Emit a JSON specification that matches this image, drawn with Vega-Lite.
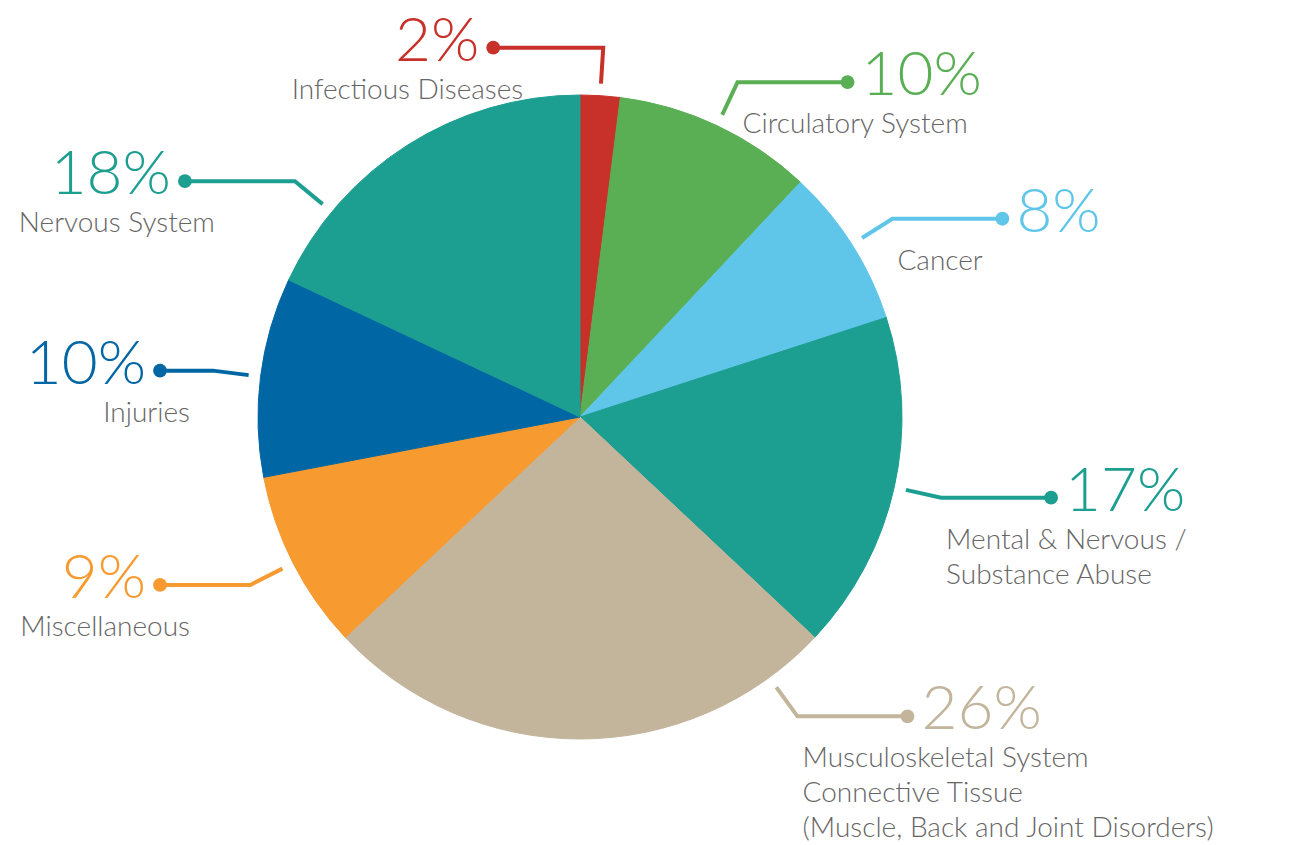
{
  "$schema": "https://vega.github.io/schema/vega-lite/v6.json",
  "width": 1307,
  "height": 845,
  "padding": 0,
  "autosize": {"type": "none"},
  "background": "white",
  "config": {"view": {"stroke": null}},
  "data": {
    "values": [
      {"category": "Infectious Diseases", "label": "Infectious Diseases", "value": 2, "order": 1},
      {"category": "Circulatory System", "label": "Circulatory System", "value": 10, "order": 2},
      {"category": "Cancer", "label": "Cancer", "value": 8, "order": 3},
      {"category": "Mental & Nervous / Substance Abuse", "label": "Mental & Nervous /\nSubstance Abuse", "value": 17, "order": 4},
      {"category": "Musculoskeletal System Connective Tissue", "label": "Musculoskeletal  System\nConnective Tissue\n(Muscle, Back and Joint Disorders)", "value": 26, "order": 5},
      {"category": "Miscellaneous", "label": "Miscellaneous", "value": 9, "order": 6},
      {"category": "Injuries", "label": "Injuries", "value": 10, "order": 7},
      {"category": "Nervous System", "label": "Nervous System", "value": 18, "order": 8}
    ]
  },
  "transform": [
    {"window": [{"op": "sum", "field": "value", "as": "cum"}], "sort": [{"field": "order", "order": "ascending"}], "frame": [null, 0]},
    {"joinaggregate": [{"op": "sum", "field": "value", "as": "total"}]},
    {"calculate": "2*PI*(datum.cum - datum.value/2)/datum.total", "as": "mid"},
    {"calculate": "datum.mid <= 1.05*PI ? min(datum.mid, 0.8*PI) : min(max(datum.mid, 1.2*PI), 1.72*PI)", "as": "a"},
    {"calculate": "sin(datum.a) > 0.1 ? 1 : -1", "as": "side"},
    {"calculate": "334*sin(datum.a)", "as": "x1"},
    {"calculate": "334*cos(datum.a)", "as": "y1"},
    {"calculate": "370*sin(datum.a)", "as": "x2"},
    {"calculate": "370*cos(datum.a)", "as": "y2"},
    {"calculate": "datum.side > 0 ? datum.x2 + 110 : max(datum.x2 - 110, -420)", "as": "x3"},
    {"calculate": "datum.y2", "as": "y3"},
    {"calculate": "datum.x3 + 14*datum.side", "as": "pctX"},
    {"calculate": "datum.side > 0 ? datum.x2 + 5 : datum.x3 + 30", "as": "nameX"},
    {"calculate": "datum.value + '%'", "as": "pct"}
  ],
  "layer": [
    {
      "mark": {"type": "arc", "outerRadius": 322, "strokeWidth": 1},
      "encoding": {
        "theta": {"field": "value", "type": "quantitative", "stack": true},
        "order": {"field": "order", "type": "quantitative"},
        "color": {"field": "category", "type": "nominal", "legend": null,
          "scale": {"domain": ["Infectious Diseases", "Circulatory System", "Cancer", "Mental & Nervous / Substance Abuse", "Musculoskeletal System Connective Tissue", "Miscellaneous", "Injuries", "Nervous System"],
                    "range": ["#C8302A", "#5AAF55", "#5FC6EA", "#1C9E91", "#C3B59C", "#F79A30", "#0067A4", "#1C9E91"]}},
        "stroke": {"field": "category", "type": "nominal", "legend": null,
          "scale": {"domain": ["Infectious Diseases", "Circulatory System", "Cancer", "Mental & Nervous / Substance Abuse", "Musculoskeletal System Connective Tissue", "Miscellaneous", "Injuries", "Nervous System"],
                    "range": ["#C8302A", "#5AAF55", "#5FC6EA", "#1C9E91", "#C3B59C", "#F79A30", "#0067A4", "#1C9E91"]}},
        "x": {"datum": 0, "type": "quantitative", "axis": null, "scale": {"domain": [-580, 727], "nice": false, "zero": false}},
        "y": {"datum": 0, "type": "quantitative", "axis": null, "scale": {"domain": [-428, 417], "nice": false, "zero": false}}
      }
    },
    {
      "transform": [
        {"calculate": "[datum.x1, datum.x2, datum.x3]", "as": "px"},
        {"calculate": "[datum.y1, datum.y2, datum.y3]", "as": "py"},
        {"calculate": "[0, 1, 2]", "as": "pi"},
        {"flatten": ["px", "py", "pi"]}
      ],
      "mark": {"type": "line", "strokeWidth": 4, "strokeJoin": "miter"},
      "encoding": {
        "x": {"field": "px", "type": "quantitative", "axis": null, "scale": {"domain": [-580, 727], "nice": false, "zero": false}},
        "y": {"field": "py", "type": "quantitative", "axis": null, "scale": {"domain": [-428, 417], "nice": false, "zero": false}},
        "color": {"field": "category", "type": "nominal", "legend": null},
        "detail": {"field": "category"},
        "order": {"field": "pi", "type": "quantitative"}
      }
    },
    {
      "mark": {"type": "point", "filled": true, "size": 190, "opacity": 1},
      "encoding": {
        "x": {"field": "x3", "type": "quantitative", "axis": null, "scale": {"domain": [-580, 727], "nice": false, "zero": false}},
        "y": {"field": "y3", "type": "quantitative", "axis": null, "scale": {"domain": [-428, 417], "nice": false, "zero": false}},
        "color": {"field": "category", "type": "nominal", "legend": null}
      }
    },
    {
      "transform": [{"filter": "datum.side > 0"}],
      "mark": {"type": "text", "align": "left", "baseline": "middle", "dy": -6, "font": "Lato", "fontWeight": 300, "fontSize": 62},
      "encoding": {
        "x": {"field": "pctX", "type": "quantitative", "axis": null, "scale": {"domain": [-580, 727], "nice": false, "zero": false}},
        "y": {"field": "y3", "type": "quantitative", "axis": null, "scale": {"domain": [-428, 417], "nice": false, "zero": false}},
        "text": {"field": "pct"},
        "color": {"field": "category", "type": "nominal", "legend": null}
      }
    },
    {
      "transform": [{"filter": "datum.side < 0"}],
      "mark": {"type": "text", "align": "right", "baseline": "middle", "dy": -6, "font": "Lato", "fontWeight": 300, "fontSize": 62},
      "encoding": {
        "x": {"field": "pctX", "type": "quantitative", "axis": null, "scale": {"domain": [-580, 727], "nice": false, "zero": false}},
        "y": {"field": "y3", "type": "quantitative", "axis": null, "scale": {"domain": [-428, 417], "nice": false, "zero": false}},
        "text": {"field": "pct"},
        "color": {"field": "category", "type": "nominal", "legend": null}
      }
    },
    {
      "transform": [{"filter": "datum.side > 0"}],
      "mark": {"type": "text", "align": "left", "baseline": "top", "dy": 29, "font": "Lato", "fontWeight": 300, "fontSize": 28, "letterSpacing": 1, "lineHeight": 35, "lineBreak": "\n", "color": "#666666"},
      "encoding": {
        "x": {"field": "nameX", "type": "quantitative", "axis": null, "scale": {"domain": [-580, 727], "nice": false, "zero": false}},
        "y": {"field": "y3", "type": "quantitative", "axis": null, "scale": {"domain": [-428, 417], "nice": false, "zero": false}},
        "text": {"field": "label"}
      }
    },
    {
      "transform": [{"filter": "datum.side < 0"}],
      "mark": {"type": "text", "align": "right", "baseline": "top", "dy": 29, "font": "Lato", "fontWeight": 300, "fontSize": 28, "letterSpacing": 1, "lineHeight": 35, "lineBreak": "\n", "color": "#666666"},
      "encoding": {
        "x": {"field": "nameX", "type": "quantitative", "axis": null, "scale": {"domain": [-580, 727], "nice": false, "zero": false}},
        "y": {"field": "y3", "type": "quantitative", "axis": null, "scale": {"domain": [-428, 417], "nice": false, "zero": false}},
        "text": {"field": "label"}
      }
    }
  ]
}
